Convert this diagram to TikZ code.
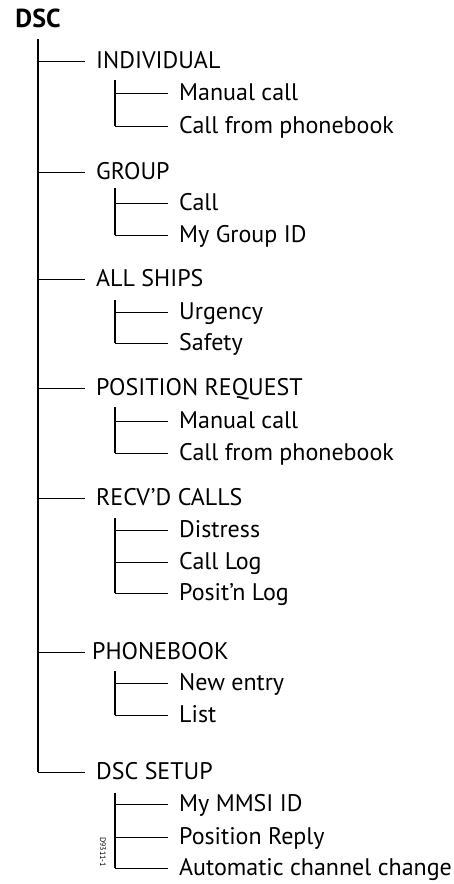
\documentclass[tikz,border=0pt]{standalone}
\usepackage{fontspec}
\setmainfont{PT Sans}
\begin{document}
\begin{tikzpicture}[x=1pt, y=-1pt]
        \tikzstyle{itemStyle} = [anchor=west, inner xsep=11pt, inner ysep=0pt,
                text height=15pt, text depth=0pt, font=\fontsize{24}{28}\selectfont]
        \tikzstyle{trunkEdge} = [draw=black, line width=2]
        \tikzstyle{branchEdge} = [draw=black, line width=1]
        \useasboundingbox (0,0) rectangle (453,884);
        \node[anchor=south, inner xsep=0pt, inner ysep=11pt, text depth=0pt,
              font=\fontsize{26}{30}\selectfont\bfseries] (dsc) at (38,39) {DSC};
        % first level
        \node[itemStyle] (1) at (85,61) {INDIVIDUAL};
        \node[itemStyle] (2) at (85,172) {GROUP};
        \node[itemStyle] (3) at (85,279) {ALL SHIPS};
        \node[itemStyle] (4) at (85,388) {POSITION REQUEST};
        \node[itemStyle] (5) at (85,498) {RECV'D CALLS};
        \node[itemStyle, inner xsep=7pt] (6) at (85,652) {PHONEBOOK};
        \node[itemStyle] (7) at (85,772) {DSC SETUP};
        % second level
        \node[itemStyle] (11) at (168,93) {Manual call};
        \node[itemStyle] (12) at (168,126) {Call from phonebook};
        \node[itemStyle] (21) at (168,203) {Call};
        \node[itemStyle] (22) at (168,235) {My Group ID};
        \node[itemStyle] (31) at (168,312) {Urgency};
        \node[itemStyle] (32) at (168,343) {Safety};
        \node[itemStyle] (41) at (168,421) {Manual call};
        \node[itemStyle] (42) at (168,453) {Call from phonebook};
        \node[itemStyle] (51) at (168,530) {Distress};
        \node[itemStyle] (52) at (168,562) {Call Log};
        \node[itemStyle] (53) at (168,593) {Posit'n Log};
        \node[itemStyle] (61) at (168,683) {New entry};
        \node[itemStyle] (62) at (168,715) {List};
        \node[itemStyle] (71) at (168,804) {My MMSI ID};
        \node[itemStyle] (72) at (168,837) {Position Reply};
        \node[itemStyle] (73) at (168,868) {Automatic channel change};
        % tops of the sub trunks
        \coordinate (t1) at (115,80);
        \coordinate (t2) at (115,188);
        \coordinate (t3) at (115,300);
        \coordinate (t4) at (115,407);
        \coordinate (t5) at (115,518);
        \coordinate (t6) at (115,671);
        \coordinate (t7) at (115,793);
        \node[rotate=-90, inner sep=0pt, font=\fontsize{8}{9}\selectfont] (code) at (103,852) {D9311-1};
        \path[trunkEdge] (dsc.south) edge (7.west -| dsc.south);
        \foreach \n in {1,...,7}
            \path[branchEdge] (\n.west -| dsc.south) edge (\n.west);
        \foreach \t/\last in {1/12, 2/22, 3/32, 4/42, 5/53, 6/62, 7/73}
            \path[trunkEdge] (t\t) edge (\last.west -| t\t);
        \foreach \t/\n in {1/11, 1/12, 2/21, 2/22, 3/31, 3/32, 4/41, 4/42,
                           5/51, 5/52, 5/53, 6/61, 6/62, 7/71, 7/72, 7/73}
            \path[branchEdge] (\n.west -| t\t) edge (\n.west);
\end{tikzpicture}
\end{document}
